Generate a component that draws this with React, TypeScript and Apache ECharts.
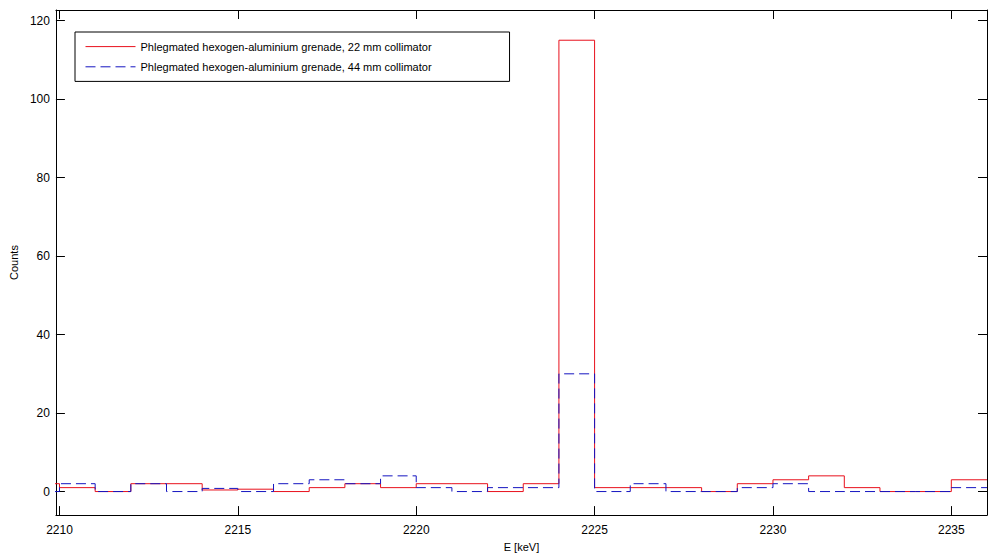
import React, { useEffect, useRef } from "react";
import * as echarts from "echarts";

// Bin start energies (keV); each bin is 1 keV wide
const binStarts = [
  2209, 2210, 2211, 2212, 2213, 2214, 2215, 2216, 2217, 2218, 2219, 2220, 2221, 2222,
  2223, 2224, 2225, 2226, 2227, 2228, 2229, 2230, 2231, 2232, 2233, 2234, 2235,
];
const binEndLast = 2236;

const counts22mm = [
  2, 1, 0, 2, 2, 0.4, 0.6, 0, 1, 2, 1, 2, 2, 0, 2, 115, 1, 1, 1, 0, 2, 3, 4, 1, 0, 0, 3,
];
const counts44mm = [
  0, 2, 0, 2, 0, 0.8, 0, 2, 3, 2, 4, 1, 0, 1, 1, 30, 0, 2, 0, 0, 1, 2, 0, 0, 0, 0, 1,
];

const seriesNames = [
  "Phlegmated hexogen-aluminium grenade, 22 mm collimator",
  "Phlegmated hexogen-aluminium grenade, 44 mm collimator",
];

const xMin = 2209.9;
const xMax = 2236;
const yMin = -6;
const yMax = 122.7;

const FONT = "'Liberation Sans', Arial, Helvetica, sans-serif";

function toSteps(values: number[]): [number, number][] {
  const pts: [number, number][] = binStarts.map((x, i) => [x, values[i]]);
  pts.push([binEndLast, values[values.length - 1]]);
  return pts;
}

export default function App() {
  const ref = useRef<HTMLDivElement>(null);

  useEffect(() => {
    if (!ref.current) return;
    const chart = echarts.init(ref.current, null, { renderer: "svg" });

    const axisCommon = {
      type: "value" as const,
      axisLine: { show: true, onZero: false, lineStyle: { color: "#000", width: 1 } },
      axisTick: { show: true, inside: true, length: 9, lineStyle: { color: "#000", width: 1 } },
      splitLine: { show: false },
    };

    chart.setOption({
      animation: false,
      backgroundColor: "#fff",
      grid: { left: 54, right: 2, top: 10, bottom: 41, containLabel: false },
      legend: {
        orient: "vertical",
        left: 75,
        top: 32,
        itemWidth: 50,
        itemHeight: 14,
        itemGap: 9,
        padding: [9, 78, 9, 10],
        borderColor: "#000",
        borderWidth: 1,
        backgroundColor: "#fff",
        itemStyle: { opacity: 0 },
        lineStyle: { width: 1 },
        textStyle: { fontFamily: FONT, fontSize: 11, color: "#000" },
        data: seriesNames,
      },
      xAxis: [
        {
          ...axisCommon,
          position: "bottom",
          min: xMin,
          max: xMax,
          splitNumber: 5,
          name: "E [keV]",
          nameLocation: "middle",
          nameGap: 25,
          nameTextStyle: { fontFamily: FONT, fontSize: 11, color: "#000" },
          axisLabel: {
            margin: 9,
            fontFamily: FONT,
            fontSize: 12,
            color: "#000",
            showMinLabel: false,
            showMaxLabel: false,
            formatter: (v: number) => String(v),
          },
        },
        {
          ...axisCommon,
          position: "top",
          min: xMin,
          max: xMax,
          splitNumber: 5,
          axisLabel: { show: false },
        },
      ],
      yAxis: [
        {
          ...axisCommon,
          position: "left",
          min: yMin,
          max: yMax,
          splitNumber: 6,
          name: "Counts",
          nameLocation: "middle",
          nameGap: 28,
          nameTextStyle: { fontFamily: FONT, fontSize: 11, color: "#000" },
          axisLabel: {
            margin: 6,
            fontFamily: FONT,
            fontSize: 12,
            color: "#000",
            showMinLabel: false,
            showMaxLabel: false,
            formatter: (v: number) => String(v),
          },
        },
        {
          ...axisCommon,
          position: "right",
          min: yMin,
          max: yMax,
          splitNumber: 6,
          axisLabel: { show: false },
        },
      ],
      series: [
        {
          name: seriesNames[0],
          type: "line",
          step: "end",
          data: toSteps(counts22mm),
          showSymbol: false,
          symbol: "none",
          clip: true,
          color: "#e8101c",
          lineStyle: { color: "#e8101c", width: 1, type: "solid" },
        },
        {
          name: seriesNames[1],
          type: "line",
          step: "end",
          data: toSteps(counts44mm),
          showSymbol: false,
          symbol: "none",
          clip: true,
          color: "#1414c0",
          lineStyle: { color: "#1414c0", width: 1, type: [10, 5] },
        },
      ],
    });

    return () => chart.dispose();
  }, []);

  return (
    <div
      ref={ref}
      style={{ position: "fixed", left: 0, top: 0, width: 989, height: 557, background: "#fff" }}
    />
  );
}
